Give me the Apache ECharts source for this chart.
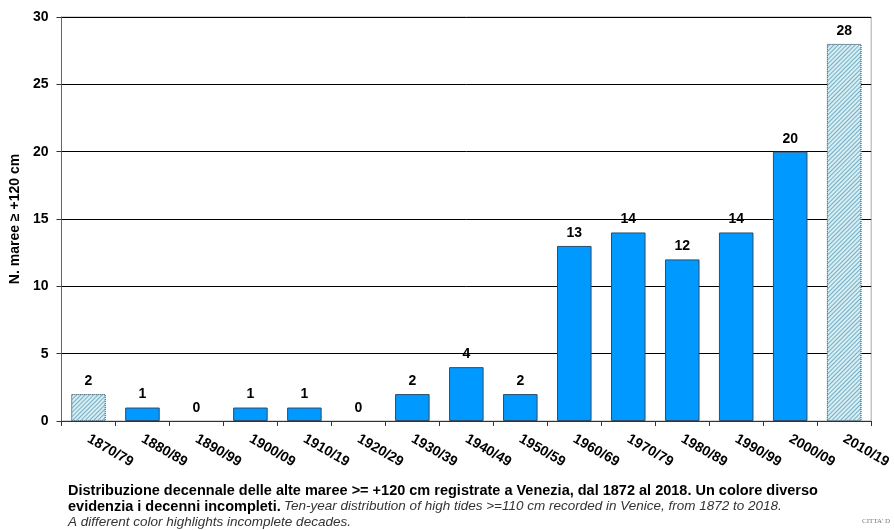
<!DOCTYPE html>
<html>
<head>
<meta charset="utf-8">
<script src="https://cdn.jsdelivr.net/npm/echarts@6/dist/echarts.min.js"></script>
<style>
  html, body { margin: 0; padding: 0; background: #fff; }
  #chart { width: 894px; height: 530px; }
</style>
</head>
<body>
<div id="chart"></div>
<script>
// Decades and counts of high tides
const decades = ['1870/79', '1880/89', '1890/99', '1900/09', '1910/19', '1920/29', '1930/39',
  '1940/49', '1950/59', '1960/69', '1970/79', '1980/89', '1990/99', '2000/09', '2010/19'];
const counts = [2, 1, 0, 1, 1, 0, 2, 4, 2, 13, 14, 12, 14, 20, 28];
// incomplete decades get a different fill
const incomplete = [true, false, false, false, false, false, false, false, false, false, false, false, false, false, true];

const FONT = 'Liberation Sans, Arial, sans-serif';

const chart = echarts.init(document.getElementById('chart'), null, { renderer: 'canvas' });

const barData = counts.map((v, i) => {
  if (v === 0) return { value: v, itemStyle: { borderWidth: 0 } };
  if (!incomplete[i]) return v;
  return {
    value: v,
    itemStyle: {
      color: '#d6eef5',
      borderColor: '#5a7080',
      borderType: 'dotted',
      borderWidth: 1,
      decal: {
        symbol: 'rect',
        symbolSize: 1,
        color: '#78aebf',
        dashArrayX: [1, 0],
        dashArrayY: [1, 2],
        rotation: -Math.PI / 4
      }
    }
  };
});

const option = {
  animation: false,
  backgroundColor: '#fff',
  grid: {
    left: 60, right: 21, top: 17, bottom: 109,
    show: true, borderColor: '#aaa', borderWidth: 1
  },
  xAxis: {
    type: 'category',
    data: decades,
    axisLine: { lineStyle: { color: '#333', width: 1 } },
    axisTick: { show: true, length: 5, lineStyle: { color: '#333' } },
    axisLabel: {
      rotate: -30,
      interval: 0,
      margin: 17,
      color: '#000',
      fontFamily: FONT,
      fontWeight: 'bold',
      fontSize: 14
    }
  },
  yAxis: {
    type: 'value',
    min: 0, max: 30, interval: 5,
    name: 'N. maree ≥ +120 cm',
    nameLocation: 'middle',
    nameGap: 36,
    nameTextStyle: { color: '#000', fontFamily: FONT, fontWeight: 'bold', fontSize: 14 },
    axisLine: { show: true, lineStyle: { color: '#666' } },
    axisTick: { show: true, length: 5, lineStyle: { color: '#333' } },
    splitLine: { lineStyle: { color: '#000', width: 1 } },
    axisLabel: { color: '#000', fontFamily: FONT, fontWeight: 'bold', fontSize: 14, margin: 13 }
  },
  series: [{
    type: 'bar',
    data: barData,
    barWidth: '64%',
    itemStyle: { color: '#0099ff', borderColor: '#2d4d6b', borderWidth: 1 },
    label: {
      show: true,
      position: 'top',
      distance: 6,
      color: '#000',
      fontFamily: FONT,
      fontWeight: 'bold',
      fontSize: 14
    }
  }],
  graphic: [
    {
      type: 'text',
      left: 68,
      top: 483,
      style: {
        text: '{b|Distribuzione decennale delle alte maree >= +120 cm registrate a Venezia, dal 1872 al 2018. Un colore diverso}\n' +
              '{b|evidenzia i decenni incompleti.} {i|Ten-year distribution of high tides >=110 cm recorded in Venice, from 1872 to 2018.}\n' +
              '{i|A different color highlights incomplete decades.}',
        rich: {
          b: { fontFamily: FONT, fontWeight: 'bold', fontSize: 14.5, fill: '#000', lineHeight: 16 },
          i: { fontFamily: FONT, fontStyle: 'italic', fontSize: 13.5, fill: '#333', lineHeight: 16 }
        }
      }
    },
    {
      type: 'text',
      left: 862,
      top: 518,
      style: { text: "CITTA' D", fontFamily: 'Liberation Serif, serif', fontSize: 7, fill: '#777' }
    }
  ]
};

chart.setOption(option);
</script>
</body>
</html>
